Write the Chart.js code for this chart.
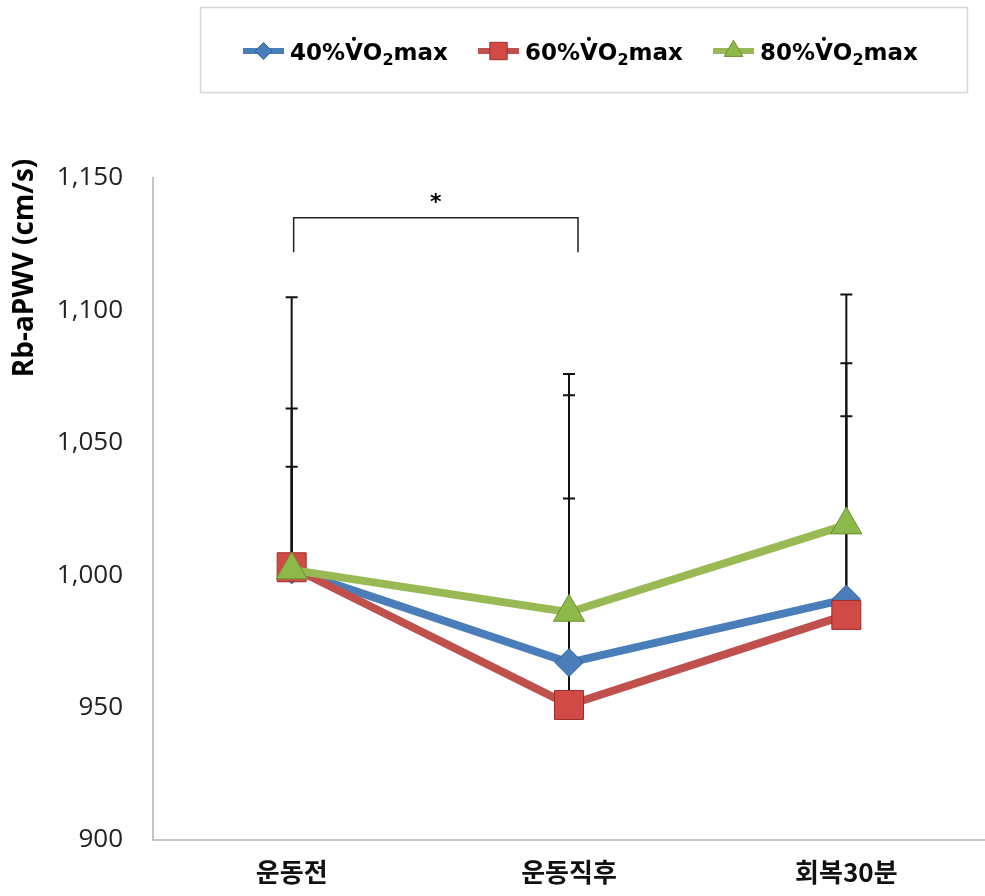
<!DOCTYPE html>
<html>
<head>
<meta charset="utf-8">
<script src="https://cdn.jsdelivr.net/npm/chart.js@4"></script>
<style>
  html, body { margin: 0; padding: 0; background: #ffffff; }
  #wrap { width: 985px; height: 896px; }
</style>
</head>
<body>
<div id="wrap"><canvas id="c" width="985" height="896"></canvas></div>
<script>
// Rb-aPWV by exercise intensity, before / right after / 30 min recovery
const categories = ['운동전', '운동직후', '회복30분'];
const intensities = ['40%', '60%', '80%'];

// group means (cm/s)
const mean40 = [1002, 967, 991];
const mean60 = [1003, 951, 985];
const mean80 = [1002, 986, 1019];

// standard deviations (upper whiskers only)
const sd40 = [61, 101, 89];
const sd60 = [38, 78, 75];
const sd80 = [103, 90, 87];

const yMin = 900, yMax = 1150, yStep = 50;

// significance bracket between 운동전 and 운동직후
const bracketFrom = 0, bracketTo = 1;
const bracketTop = 1135, bracketBottom = 1122, bracketMark = '*';

const colors = {
  blue:  { line: '#4a7ebb', fill: '#4a7ebb', edge: '#2f5f96' },
  red:   { line: '#c0504d', fill: '#d24a45', edge: '#9b2f2c' },
  green: { line: '#98b954', fill: '#8db84a', edge: '#6d8f33' }
};

// later series are painted over earlier ones
const series = [
  { name: intensities[0], data: mean40, sd: sd40, c: colors.blue,  style: 'rectRot',  r: 14,   order: 2 },
  { name: intensities[1], data: mean60, sd: sd60, c: colors.red,   style: 'rect',     r: 20.5, order: 1 },
  { name: intensities[2], data: mean80, sd: sd80, c: colors.green, style: 'triangle', r: 18,   order: 0 }
];

const tickFont = { family: '"Open Sans", "Noto Sans", sans-serif', size: 26 };
const catFont = { family: '"Noto Sans CJK KR", sans-serif', size: 26, weight: 'bold' };
const legendFamily = '"DejaVu Sans", sans-serif';

// whiskers drawn behind the lines and markers
const errorBars = {
  id: 'errorBars',
  beforeDatasetsDraw(chart) {
    const { ctx, scales: { x, y } } = chart;
    ctx.save();
    ctx.strokeStyle = '#111';
    ctx.lineWidth = 2;
    series.forEach(s => {
      s.data.forEach((v, j) => {
        const px = x.getPixelForValue(j);
        const y0 = y.getPixelForValue(v);
        const y1 = y.getPixelForValue(v + s.sd[j]);
        ctx.beginPath();
        ctx.moveTo(px, y0);
        ctx.lineTo(px, y1);
        ctx.moveTo(px - 6, y1);
        ctx.lineTo(px + 6, y1);
        ctx.stroke();
      });
    });
    ctx.restore();
  }
};

// "V̇O₂max" with a dot over V and subscript 2
function drawVO2(ctx, prefix, x, y, size) {
  const f = s => `bold ${s}px ${legendFamily}`;
  ctx.font = f(size);
  ctx.textBaseline = 'alphabetic';
  ctx.textAlign = 'left';
  ctx.fillStyle = '#000';
  let cx = x;
  ctx.fillText(prefix, cx, y); cx += ctx.measureText(prefix).width;
  const vw = ctx.measureText('V').width;
  ctx.fillText('V', cx, y);
  ctx.beginPath();
  ctx.arc(cx + vw / 2, y - size * 0.92, size * 0.09, 0, Math.PI * 2);
  ctx.fill();
  cx += vw;
  ctx.fillText('O', cx, y); cx += ctx.measureText('O').width;
  ctx.font = f(Math.round(size * 0.68));
  ctx.fillText('2', cx, y + size * 0.2); cx += ctx.measureText('2').width;
  ctx.font = f(size);
  ctx.fillText('max', cx, y);
  cx += ctx.measureText('max').width;
  return cx;
}

function drawMarker(ctx, s, cx, cy, r) {
  Chart.helpers.drawPoint(ctx, { pointStyle: s.style, rotation: 0, radius: r, borderWidth: 1 }, cx, cy);
}

const overlay = {
  id: 'overlay',
  afterDraw(chart) {
    const { ctx, scales: { x, y } } = chart;
    ctx.save();

    // legend box
    ctx.strokeStyle = '#d6d6d6';
    ctx.lineWidth = 1.5;
    ctx.strokeRect(200.5, 7.5, 767, 85);
    const legendX = [243, 478, 713];
    series.forEach((s, i) => {
      const lx = legendX[i], ly = 51;
      ctx.strokeStyle = s.c.line;
      ctx.lineWidth = 6;
      ctx.beginPath();
      ctx.moveTo(lx, ly); ctx.lineTo(lx + 41, ly);
      ctx.stroke();
      ctx.fillStyle = s.c.fill;
      ctx.strokeStyle = s.c.edge;
      ctx.lineWidth = 1;
      drawMarker(ctx, s, lx + 20.5, ly, s.r * 0.6);
      drawVO2(ctx, s.name, lx + 47, 60, 23);
    });

    // y-axis title
    ctx.save();
    ctx.translate(25, 268);
    ctx.rotate(-Math.PI / 2);
    ctx.font = 'bold 28px "Open Sans", "Noto Sans", sans-serif';
    ctx.textAlign = 'center';
    ctx.textBaseline = 'middle';
    ctx.fillStyle = '#000';
    ctx.fillText('Rb-aPWV (cm/s)', 0, 0);
    ctx.restore();

    // significance bracket
    const xa = x.getPixelForValue(bracketFrom) + 2;
    const xb = x.getPixelForValue(bracketTo) + 9;
    const yt = y.getPixelForValue(bracketTop);
    const yb = y.getPixelForValue(bracketBottom);
    ctx.strokeStyle = '#222';
    ctx.lineWidth = 1.5;
    ctx.beginPath();
    ctx.moveTo(xa, yb); ctx.lineTo(xa, yt); ctx.lineTo(xb, yt); ctx.lineTo(xb, yb);
    ctx.stroke();
    ctx.fillStyle = '#000';
    ctx.font = 'bold 22px "DejaVu Sans", sans-serif';
    ctx.textAlign = 'center';
    ctx.textBaseline = 'middle';
    ctx.fillText(bracketMark, (xa + xb) / 2, yt - 14);

    ctx.restore();
  }
};

new Chart(document.getElementById('c'), {
  type: 'line',
  data: {
    labels: categories,
    datasets: series.map(s => ({
      label: s.name + 'VO2max',
      data: s.data,
      order: s.order,
      borderColor: s.c.line,
      borderWidth: 8,
      tension: 0,
      pointStyle: s.style,
      pointRadius: s.r,
      pointBackgroundColor: s.c.fill,
      pointBorderColor: s.c.edge,
      pointBorderWidth: 1
    }))
  },
  options: {
    responsive: false,
    animation: false,
    devicePixelRatio: 1,
    layout: { autoPadding: false, padding: { top: 178, right: 0, left: 0, bottom: 0 } },
    plugins: { legend: { display: false }, tooltip: { enabled: false } },
    scales: {
      x: {
        type: 'category',
        offset: true,
        grid: { color: 'transparent', drawTicks: false },
        border: { display: true, color: '#c4c4c4', width: 2 },
        ticks: { font: catFont, color: '#111', padding: 17 },
        afterFit(scale) { scale.height = 56; scale.paddingLeft = 0; scale.paddingRight = 0; }
      },
      y: {
        min: yMin,
        max: yMax,
        grid: { color: 'transparent', drawTicks: false },
        border: { display: true, color: '#c4c4c4', width: 2 },
        ticks: {
          stepSize: yStep,
          font: tickFont,
          color: '#222',
          padding: 30,
          callback: v => v.toLocaleString('en-US')
        },
        afterFit(scale) { scale.width = 153; scale.paddingTop = 0; scale.paddingBottom = 0; }
      }
    }
  },
  plugins: [errorBars, overlay]
});
</script>
</body>
</html>
